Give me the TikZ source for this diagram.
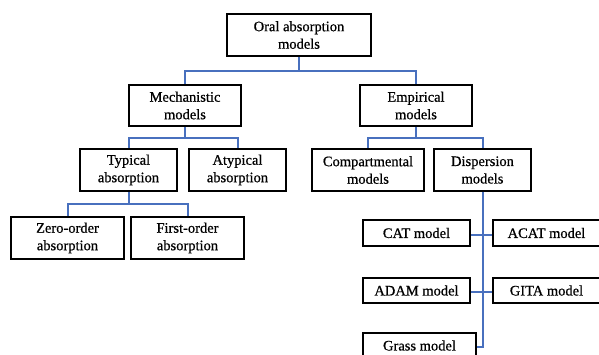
\documentclass[tikz,border=0pt]{standalone}
\usepackage{fontspec}
\setmainfont{Liberation Serif}[FakeBold=0.6]
\definecolor{linkblue}{RGB}{72,112,190}
\begin{document}
\begin{tikzpicture}[x=1pt,y=-1pt,
  box/.style={draw=black,line width=2pt,fill=white,align=center,inner sep=0pt,
    font=\fontsize{14.5}{17.5}\selectfont},
  bigbox/.style={box,minimum height=42pt},
  smallbox/.style={box,minimum height=25.5pt},
  link/.style={draw=linkblue,line width=2pt}]
\useasboundingbox (0,0) rectangle (599,355);
\clip (0,0) rectangle (599,355);
\fill[white] (0,0) rectangle (599,355);
\node[bigbox,minimum width=144pt] (oral) at (299,35) {Oral absorption\\models};
\node[bigbox,minimum width=112pt,minimum height=41pt] (mech) at (185,105.5) {Mechanistic\\models};
\node[bigbox,minimum width=112pt,minimum height=41pt] (emp) at (416,105.5) {Empirical\\models};
\node[bigbox,minimum width=97pt] (typ) at (128.5,170) {Typical\\absorption};
\node[bigbox,minimum width=97pt] (atyp) at (237.5,170) {Atypical\\absorption};
\node[bigbox,minimum width=112pt] (comp) at (368,170) {Compartmental\\models};
\node[bigbox,minimum width=97pt] (disp) at (482.5,170) {Dispersion\\models};
\node[bigbox,minimum width=113pt] (zero) at (67.5,238) {Zero-order\\absorption};
\node[bigbox,minimum width=113pt] (first) at (187.5,238) {First-order\\absorption};
\node[smallbox,minimum width=107pt] (cat) at (416.5,233) {CAT model};
\node[smallbox,minimum width=107pt] (acat) at (546.5,233) {ACAT model};
\node[smallbox,minimum width=107pt] (adam) at (416.5,290.5) {ADAM model};
\node[smallbox,minimum width=107pt] (gita) at (546.5,290.5) {GITA model};
\node[smallbox,minimum width=113pt] (grass) at (419.5,345.5) {Grass model};
% connectors
\draw[link] (oral.south) -- ++(0,14) -| (mech.north);
\draw[link] (oral.south) -- ++(0,14) -| (emp.north);
\draw[link] (mech.south) -- ++(0,11) -| (typ.north);
\draw[link] (mech.south) -- ++(0,11) -| (atyp.north);
\draw[link] (emp.south) -- ++(0,11) -| (comp.north);
\draw[link] (emp.south) -- ++(0,11) -| (disp.north);
\draw[link] (typ.south) -- ++(0,12) -| (zero.north);
\draw[link] (typ.south) -- ++(0,12) -| (first.north);
\draw[link] (disp.south) |- ([yshift=-1.5pt]grass.east);
\draw[link] ([yshift=-2pt]cat.east) -- ([yshift=-2pt]acat.west);
\draw[link] ([yshift=-1.5pt]adam.east) -- ([yshift=-1.5pt]gita.west);
\end{tikzpicture}
\end{document}
